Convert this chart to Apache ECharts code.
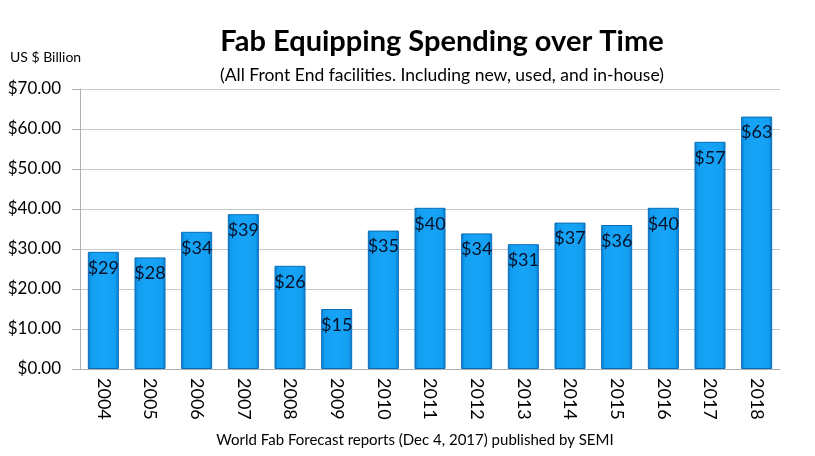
<!DOCTYPE html>
<html>
<head>
<meta charset="utf-8">
<script src="https://cdn.jsdelivr.net/npm/echarts@6/dist/echarts.min.js"></script>
<style>
  html, body { margin: 0; padding: 0; background: #fff; }
  #main { width: 815px; height: 456px; }
</style>
</head>
<body>
<div id="main"></div>
<script>
var years = ['2004', '2005', '2006', '2007', '2008', '2009', '2010', '2011',
             '2012', '2013', '2014', '2015', '2016', '2017', '2018'];
// fab equipment spending, US $ billion
var spending = [29.3, 27.9, 34.3, 38.7, 25.8, 15.0, 34.6, 40.3,
                33.9, 31.2, 36.6, 36.0, 40.3, 56.8, 63.1];

var font = 'Lato, "Open Sans", sans-serif';

var myChart = echarts.init(document.getElementById('main'));
var option = {
    backgroundColor: '#fff',
    animation: false,
    title: [{
        text: 'Fab Equipping Spending over Time',
        left: 437, top: 22, textAlign: 'center',
        textStyle: { fontFamily: font, fontSize: 29, fontWeight: 'bold', color: '#000' }
    }, {
        text: '(All Front End facilities. Including new, used, and in-house)',
        left: 437, top: 61, textAlign: 'center',
        textStyle: { fontFamily: font, fontSize: 17.5, fontWeight: 'normal', color: '#000' }
    }, {
        text: 'US $ Billion',
        left: 5, top: 45,
        textStyle: { fontFamily: font, fontSize: 14, fontWeight: 'normal', color: '#000' }
    }, {
        text: 'World Fab Forecast reports (Dec 4, 2017) published by SEMI',
        left: 410, top: 428, textAlign: 'center',
        textStyle: { fontFamily: font, fontSize: 15, fontWeight: 'normal', color: '#000' }
    }],
    grid: { left: 80, right: 35, top: 89, bottom: 87 },
    xAxis: {
        type: 'category',
        data: years,
        axisLine: { lineStyle: { color: '#b0b0b0' } },
        axisTick: { length: 6, lineStyle: { color: '#b0b0b0' } },
        axisLabel: {
            rotate: -90, margin: 9, color: '#000',
            fontFamily: font, fontSize: 18
        }
    },
    yAxis: {
        type: 'value',
        min: 0, max: 70, interval: 10,
        axisLine: { show: true, lineStyle: { color: '#b0b0b0' } },
        axisTick: { show: true, length: 8, lineStyle: { color: '#b0b0b0' } },
        splitLine: { lineStyle: { color: '#c8c8c8' } },
        axisLabel: {
            margin: 19, color: '#000', fontFamily: font, fontSize: 17,
            formatter: function (v) { return '$' + v.toFixed(2); }
        }
    },
    series: [{
        type: 'bar',
        data: spending,
        barWidth: 31,
        itemStyle: {
            borderColor: '#0a6cb8',
            borderWidth: 1,
            color: new echarts.graphic.LinearGradient(0, 0, 1, 0, [
                { offset: 0, color: '#0a7ccc' },
                { offset: 0.12, color: '#129ff2' },
                { offset: 0.5, color: '#18a4f6' },
                { offset: 0.88, color: '#129ff2' },
                { offset: 1, color: '#0a7ccc' }
            ])
        },
        label: {
            show: true,
            position: 'insideTop',
            distance: 7,
            color: '#061028',
            fontFamily: font,
            fontSize: 18,
            formatter: function (p) { return '$' + Math.round(p.value); }
        }
    }]
};
myChart.setOption(option);
</script>
</body>
</html>
